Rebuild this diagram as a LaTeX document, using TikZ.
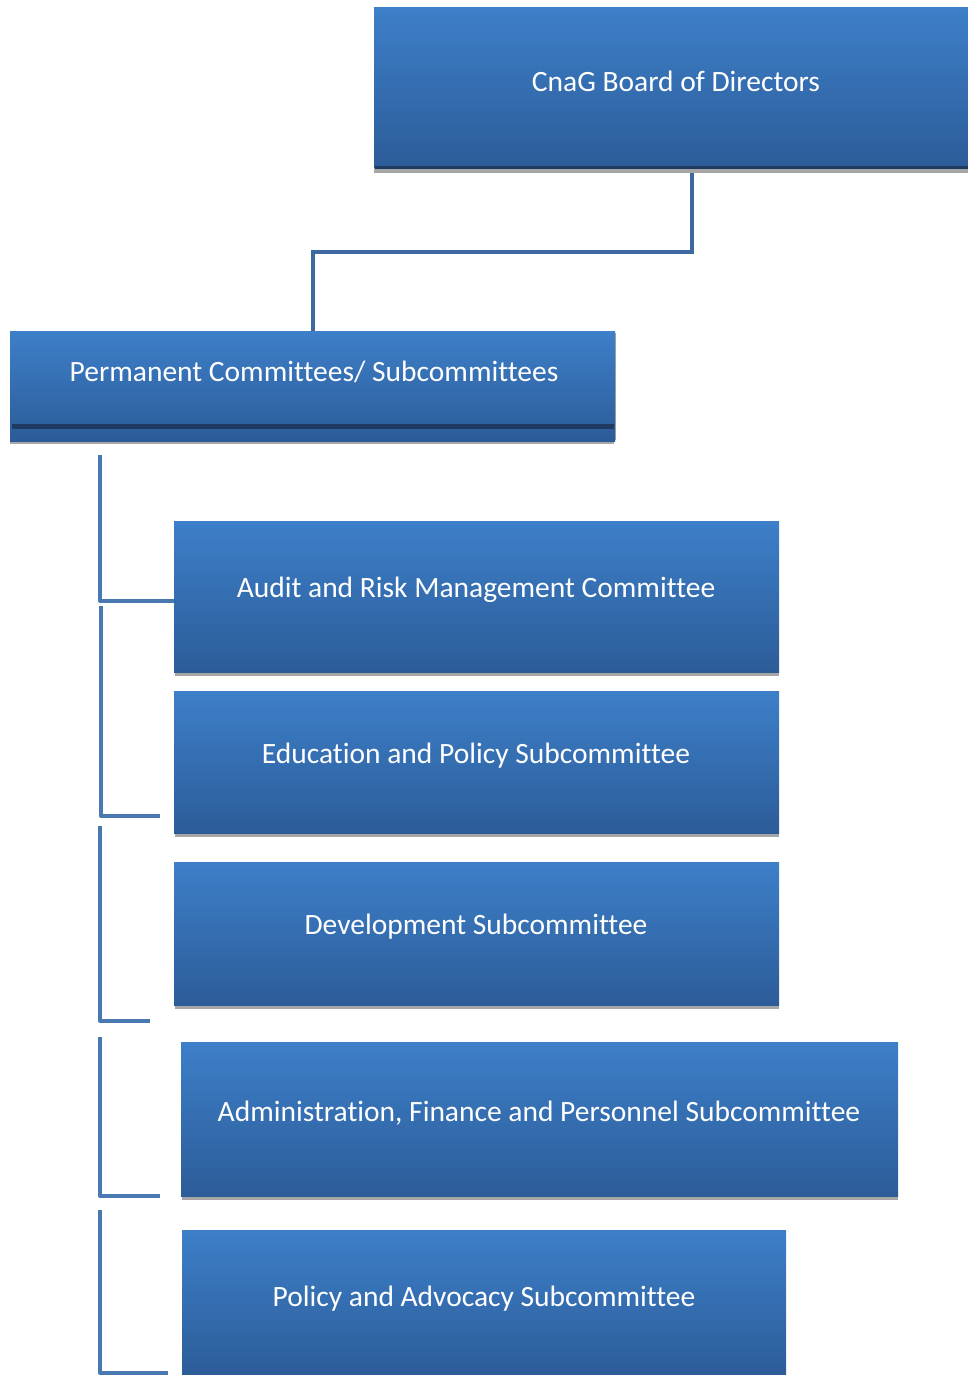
\documentclass[tikz,border=0pt]{standalone}
\usepackage{fontspec}
\setmainfont{Carlito}[Ligatures=NoCommon]
\definecolor{boxtop}{RGB}{61,127,201}
\definecolor{boxbot}{RGB}{44,92,152}
\definecolor{darkline}{RGB}{31,59,98}
\definecolor{shadowgray}{RGB}{166,166,166}
\definecolor{connblue}{RGB}{62,104,160}
\definecolor{brackblue}{RGB}{74,120,176}
\tikzset{
  cbox/.style={rectangle, inner sep=0pt, outer sep=0pt, anchor=north west,
    top color=boxtop, bottom color=boxbot, draw=none},
  ctext/.style={text=white, font=\fontsize{29.5}{34}\selectfont, inner sep=0pt},
  shad/.style={fill=shadowgray},
  conn/.style={draw=connblue, line width=4pt, line join=miter},
  brack/.style={draw=brackblue, line width=4pt, line join=round},
}
\begin{document}
\begin{tikzpicture}[x=1pt,y=-1pt]
\useasboundingbox (0,0) rectangle (968,1375);
% Board
\fill[shad] (374,168) rectangle (968,173);
\node[cbox, minimum width=594pt, minimum height=160pt] (board) at (374,8) {};
\fill[darkline] (375,166.5) rectangle (968,169);
\node[ctext] (boardt) at (676,81) {CnaG Board of Directors};
% Permanent
\fill[shad] (10,440) rectangle (614,444);
\fill[shad] (613,333) rectangle (616,440);
\node[cbox, minimum width=605pt, minimum height=110pt] (perm) at (10,331) {};
\fill[darkline] (12,424) rectangle (614,428.5);
\node[ctext] (permt) at (314,372) {Permanent Committees/ Subcommittees};
% connector
\draw[conn] ([xshift=21pt,yshift=-5pt]board.south) -- ++(0,79) -| (perm.north);
% Audit
\fill[shad] (175,672) rectangle (779,676);
\node[cbox, minimum width=605pt, minimum height=151pt] (audit) at (174,521) {};
\node[ctext] (auditt) at (476,590) {Audit and Risk Management Committee};
% Education
\fill[shad] (175,833) rectangle (779,837);
\node[cbox, minimum width=605pt, minimum height=142pt] (edu) at (174,691) {};
\node[ctext] (edut) at (476,756) {Education and Policy Subcommittee};
% Development
\fill[shad] (175,1005) rectangle (779,1009);
\node[cbox, minimum width=605pt, minimum height=143pt] (dev) at (174,862) {};
\node[ctext] (devt) at (476,927) {Development Subcommittee};
% Administration
\fill[shad] (182,1196) rectangle (898,1200);
\node[cbox, minimum width=717pt, minimum height=154pt] (adm) at (181,1042) {};
\node[ctext] (admt) at (539,1113) {Administration, Finance and Personnel Subcommittee};
% Policy
\node[cbox, minimum width=604pt, minimum height=146pt] (pol) at (182,1230) {};
\node[ctext] (polt) at (484,1299) {Policy and Advocacy Subcommittee};
% brackets
\coordinate (b1) at (100,455);
\draw[brack] (b1) |- ([yshift=-4pt]audit.west);
\coordinate (b2a) at (101,606);
\coordinate (b2b) at (160,816);
\draw[brack] (b2a) |- (b2b);
\coordinate (b3a) at (100,826);
\coordinate (b3b) at (150,1021);
\draw[brack] (b3a) |- (b3b);
\coordinate (b4a) at (100,1037);
\coordinate (b4b) at (160,1196);
\draw[brack] (b4a) |- (b4b);
\coordinate (b5a) at (100,1210);
\coordinate (b5b) at (168,1373);
\draw[brack] (b5a) |- (b5b);
\end{tikzpicture}
\end{document}
